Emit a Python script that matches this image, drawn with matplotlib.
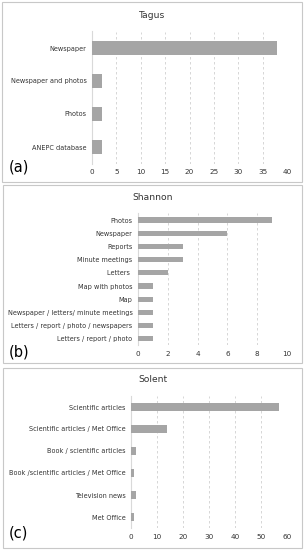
import matplotlib.pyplot as plt
from matplotlib.patches import Rectangle

tagus_labels = ["Newspaper", "Newspaper and photos", "Photos", "ANEPC database"]
tagus_values = [38, 2, 2, 2]

shannon_labels = ["Photos", "Newspaper", "Reports", "Minute meetings", "Letters ",
                  "Map with photos", "Map", "Newspaper / letters/ minute meetings",
                  "Letters / report / photo / newspapers", "Letters / report / photo"]
shannon_values = [9, 6, 3, 3, 2, 1, 1, 1, 1, 1]

solent_labels = ["Scientific articles", "Scientific articles / Met Office",
                 "Book / scientific articles", "Book /scientific articles / Met Office",
                 "Television news", "Met Office"]
solent_values = [57, 14, 2, 1, 2, 1]

W, H = 304, 550
fig = plt.figure(figsize=(W / 100, H / 100), dpi=100)
fig.patch.set_facecolor("white")


def px_axes(left, top, right, bottom):
    return fig.add_axes([left / W, 1 - bottom / H, (right - left) / W, (bottom - top) / H])


def panel(box, axbox, title, title_y, labels, values, xmax, step, tag, tag_y):
    x0, y0, x1, y1 = box
    fig.patches.append(Rectangle((x0 / W, 1 - y1 / H), (x1 - x0) / W, (y1 - y0) / H,
                                 transform=fig.transFigure, fill=False,
                                 edgecolor="#c8c8c8", linewidth=0.8))
    ax = px_axes(*axbox)
    pos = list(range(len(labels)))
    ax.barh(pos, values, height=0.4, color="#a5a5a5", zorder=3)
    ax.set_ylim(len(labels) - 0.5, -0.5)
    ax.set_xlim(0, xmax)
    ax.set_yticks(pos)
    ax.set_yticklabels(labels, fontsize=4.7, color="#333333")
    ax.set_xticks(list(range(0, xmax + 1, step)))
    ax.tick_params(axis="x", labelsize=5.2, colors="#333333", length=0, pad=4)
    ax.tick_params(axis="y", length=0, pad=4)
    ax.grid(axis="x", linestyle=(0, (3, 3)), color="#d0d0d0", linewidth=0.6, zorder=0)
    for s in ["top", "right", "bottom"]:
        ax.spines[s].set_visible(False)
    ax.spines["left"].set_color("#d9d9d9")
    ax.spines["left"].set_linewidth(0.8)
    fig.text((x0 + x1) / 2 / W, 1 - title_y / H, title, ha="center", va="center",
             fontsize=6.6, color="#333333")
    fig.text(9 / W, 1 - tag_y / H, tag, ha="left", va="center", fontsize=10.5, color="black")
    return ax


panel((2, 2, 302, 182), (92, 31.5, 287, 163.5), "Tagus", 15,
      tagus_labels, tagus_values, 40, 5, "(a)", 167)
panel((3, 185, 302, 363), (138, 213.4, 287, 345.4), "Shannon", 198,
      shannon_labels, shannon_values, 10, 2, "(b)", 352)
panel((3, 368, 302, 548), (131, 396, 287, 528), "Solent", 380,
      solent_labels, solent_values, 60, 10, "(c)", 533)

fig.savefig("out.png", dpi=100)
